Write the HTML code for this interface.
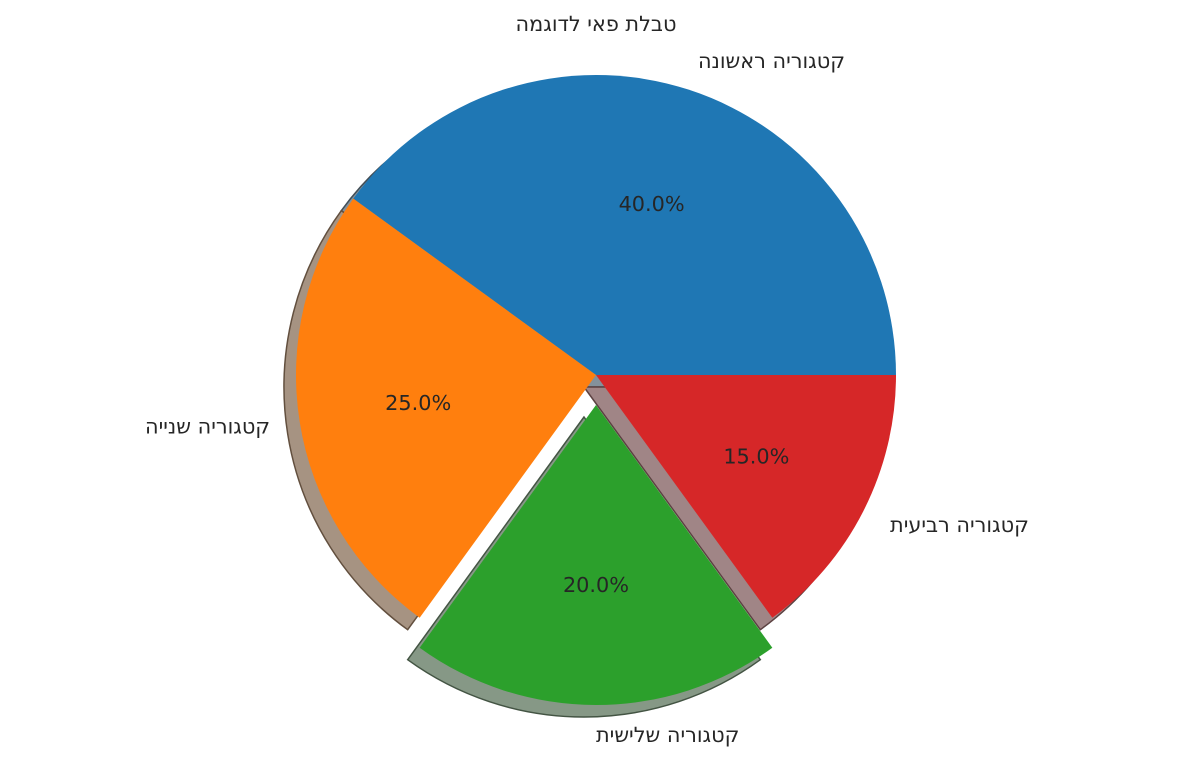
<!DOCTYPE html>
<html><head><meta charset="utf-8"><style>
html,body{margin:0;padding:0;background:#fff;}
svg text{font-family:"DejaVu Sans","Liberation Sans",sans-serif;fill:#262626;font-size:20.8px;}
svg text.heb{direction:ltr;unicode-bidi:bidi-override;}
</style></head><body>
<svg id="chart" width="1192" height="760" viewBox="0 0 1192 760" xmlns="http://www.w3.org/2000/svg">
<text class="heb" x="596" y="31" text-anchor="middle">המגודל יאפ תלבט</text>
<g id="shadows"></g>
<g id="wedges"></g>
<g id="labels"></g>
</svg>
<script>
const categories = ["קטגוריה ראשונה","קטגוריה שנייה","קטגוריה שלישית","קטגוריה רביעית"];
const values = [40, 25, 20, 15];
const explode = [0, 0, 0.1, 0];
const colors = ["#1f77b4","#ff7f0e","#2ca02c","#d62728"];
const names = ["slice-first","slice-second","slice-third","slice-fourth"];

const NS="http://www.w3.org/2000/svg";
const cx=596, cy=375, R=300, sh=12;
const total=values.reduce((a,b)=>a+b,0);
function pt(x,y,a,r){return [x+r*Math.cos(a), y-r*Math.sin(a)];}
function wedgePath(x,y,a0,a1){
  const p0=pt(x,y,a0,R), p1=pt(x,y,a1,R);
  const large=(a1-a0)>Math.PI?1:0;
  return `M${x},${y} L${p0[0]},${p0[1]} A${R},${R} 0 ${large} 0 ${p1[0]},${p1[1]} Z`;
}
function shadeCol(hex){
  const n=parseInt(hex.slice(1),16);
  const c=[(n>>16)&255,(n>>8)&255,n&255].map(v=>Math.round(v*0.3*0.5+255*0.5));
  return `rgb(${c[0]},${c[1]},${c[2]})`;
}
function edgeCol(hex){
  const n=parseInt(hex.slice(1),16);
  const c=[(n>>16)&255,(n>>8)&255,n&255].map(v=>Math.round(v*0.3*0.5+60));
  return `rgb(${c[0]},${c[1]},${c[2]})`;
}
const gS=document.getElementById('shadows'), gW=document.getElementById('wedges'), gL=document.getElementById('labels');
let start=0;
values.forEach((v,i)=>{
  const a0=start/total*2*Math.PI, a1=(start+v)/total*2*Math.PI, am=(a0+a1)/2;
  start+=v;
  const ox=cx+explode[i]*R*Math.cos(am), oy=cy-explode[i]*R*Math.sin(am);
  const s=document.createElementNS(NS,'path');
  s.setAttribute('d',wedgePath(ox-sh,oy+sh,a0,a1));
  s.setAttribute('fill',shadeCol(colors[i]));
  s.setAttribute('stroke',edgeCol(colors[i]));
  s.setAttribute('stroke-width','1.5');
  
  
  gS.appendChild(s);
  const w=document.createElementNS(NS,'path');
  w.setAttribute('d',wedgePath(ox,oy,a0,a1));
  w.setAttribute('fill',colors[i]);
  
  
  gW.appendChild(w);
  const lp=pt(ox,oy,am,R*1.1);
  const t=document.createElementNS(NS,'text');
  t.setAttribute('class','heb');
  t.setAttribute('x',lp[0]); t.setAttribute('y',lp[1]+7);
  t.setAttribute('text-anchor', Math.cos(am)>-1e-9?'start':'end');
  t.textContent=categories[i].split('').reverse().join('');
  
  
  gL.appendChild(t);
  const pp=pt(ox,oy,am,R*0.6);
  const p=document.createElementNS(NS,'text');
  p.setAttribute('x',pp[0]); p.setAttribute('y',pp[1]+7);
  p.setAttribute('text-anchor','middle');
  p.textContent=(v/total*100).toFixed(1)+'%';
  
  
  gL.appendChild(p);
});
</script>
</body></html>
